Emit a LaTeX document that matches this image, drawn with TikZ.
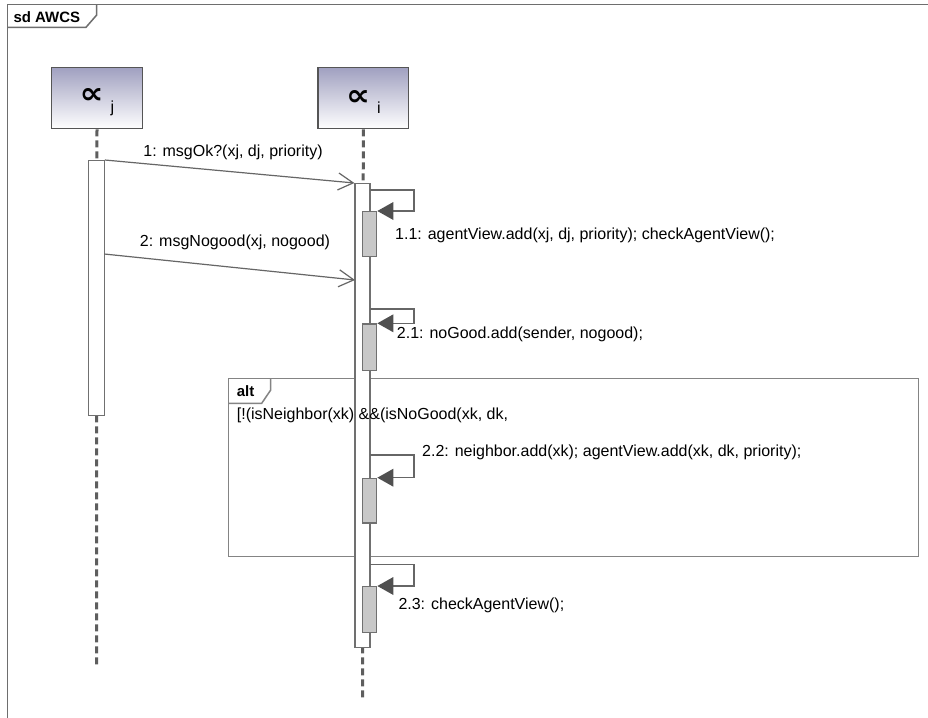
\documentclass[tikz,border=0pt]{standalone}
\usepackage{fontspec}
\setmainfont{Liberation Sans}
\newfontfamily\symfont{DejaVu Sans}
\usetikzlibrary{arrows.meta,calc,shadings}
\definecolor{frm}{HTML}{6E6E6E}
\definecolor{headc}{HTML}{555555}
\definecolor{headtop}{HTML}{A0A0C0}
\definecolor{lifec}{HTML}{5E5E5E}
\definecolor{actc}{HTML}{707070}
\definecolor{nestc}{HTML}{C8C8C8}
\definecolor{msgc}{HTML}{666666}
\definecolor{arrc}{HTML}{505050}
\newcommand{\headtext}[1]{\rule{0pt}{22.9pt}\resizebox{24pt}{15pt}{\symfont\bfseries ∝}\hspace{7pt}\raisebox{-8.5pt}{\fontsize{16}{16}\selectfont #1}\hspace{-4.5pt}}
\begin{document}
\begin{tikzpicture}[x=1pt,y=-1pt,
  lbl/.style={font=\fontsize{16}{19}\selectfont, inner sep=0pt, anchor=west, text=black},
  tabtxt/.style={font=\fontsize{15}{18}\selectfont\bfseries, inner sep=0pt, anchor=west},
  lifehead/.style={draw=headc, line width=1.2pt, top color=headtop, bottom color=white,
    minimum width=90.5pt, minimum height=61.5pt, inner sep=0pt},
  life/.style={draw=lifec, line width=3pt, dash pattern=on 7pt off 4pt},
  act/.style={draw=actc, fill=white, line width=1.3pt, minimum width=15pt, inner sep=0pt, anchor=north},
  nest/.style={draw=actc, fill=nestc, line width=1.3pt, minimum width=14pt, inner sep=0pt, anchor=north},
  msg/.style={draw=msgc, line width=1.2pt, -{Straight Barb[length=15pt,width=17pt,line width=1.2pt]}},
  selfmsg/.style={draw=msgc, line width=1.2pt, -{Triangle[length=16pt,width=18pt,line width=0pt,fill=arrc,color=arrc]}},
  frame/.style={draw=frm, line width=1.5pt},
  altframe/.style={draw=frm!85, line width=1.5pt},
]
\clip (0,0) rectangle (928,717);
\fill[white] (0,0) rectangle (928,717);

% outer frame
\draw[frame] (7.5,4.7) rectangle (1000,800);
\draw[frame] (7.5,27.3) -- (86,27.3) -- (96.7,15) -- (96.7,4.7);
\node[tabtxt] (sdlbl) at (13.3,17) {sd AWCS};

% heads
\node[lifehead] (hj) at (97,98) {\headtext{j}};
\node[lifehead] (hi) at (363.3,98) {\headtext{i}};

% lifelines
\coordinate (ej) at (96.5,666);
\coordinate (ei) at (362.5,699);
\draw[life] (hj.south) -- (ej);
\draw[life] (hi.south) -- (ei);

% alt fragment
\draw[altframe] (228.3,378.3) rectangle (918.3,556.5);
\draw[altframe] (228.3,403.3) -- (261.7,403.3) -- (270.7,390) -- (270.7,378.3);
\node[tabtxt] (altlbl) at (236.7,391) {alt};

% activations
\node[act, minimum width=15.5pt, minimum height=255pt] (aj) at (96.5,160) {};
\node[act, minimum height=464pt] (ai) at (362.5,183) {};

\node[nest, minimum height=45pt] (n11) at (369.7,211) {};
\node[nest, minimum height=46.5pt] (n21) at (369.7,323.3) {};
\node[nest, minimum height=44.6pt] (n22) at (369.7,477.7) {};
\node[nest, minimum height=45.7pt] (n23) at (369.7,586) {};

\node[lbl] (guard) at (236.7,415) {[!(isNeighbor(xk) \&\&(isNoGood(xk, dk,};

% messages
\draw[msg] (aj.north east) -- (ai.north west);
\node[lbl, anchor=center] (l1) at (233,152) {1: msgOk?(xj, dj, priority)};

\coordinate (m2s) at (104.2,254);
\coordinate (m2e) at (355,280);
\draw[msg] (m2s) -- (m2e);
\node[lbl, anchor=center] (l2) at (235,242) {2: msgNogood(xj, nogood)};

% self messages
\coordinate (s11) at (370,190);
\draw[selfmsg] (s11) -- (414,190) -- (414,211) -- (n11.north east);
\node[lbl] (l11) at (395,235) {1.1: agentView.add(xj, dj, priority); checkAgentView();};

\coordinate (s21) at (370,309);
\draw[selfmsg] (s21) -- (414,309) -- (414,323.3) -- (n21.north east);
\node[lbl] (l21) at (396.7,334) {2.1: noGood.add(sender, nogood);};

\coordinate (s22) at (370,455);
\draw[selfmsg] (s22) -- (414,455) -- (414,477.7) -- (n22.north east);
\node[lbl] (l22) at (422,452) {2.2: neighbor.add(xk); agentView.add(xk, dk, priority);};

\coordinate (s23) at (370,564.3);
\draw[selfmsg] (s23) -- (414,564.3) -- (414,586) -- (n23.north east);
\node[lbl] (l23) at (398.3,605) {2.3: checkAgentView();};
\end{tikzpicture}
\end{document}
